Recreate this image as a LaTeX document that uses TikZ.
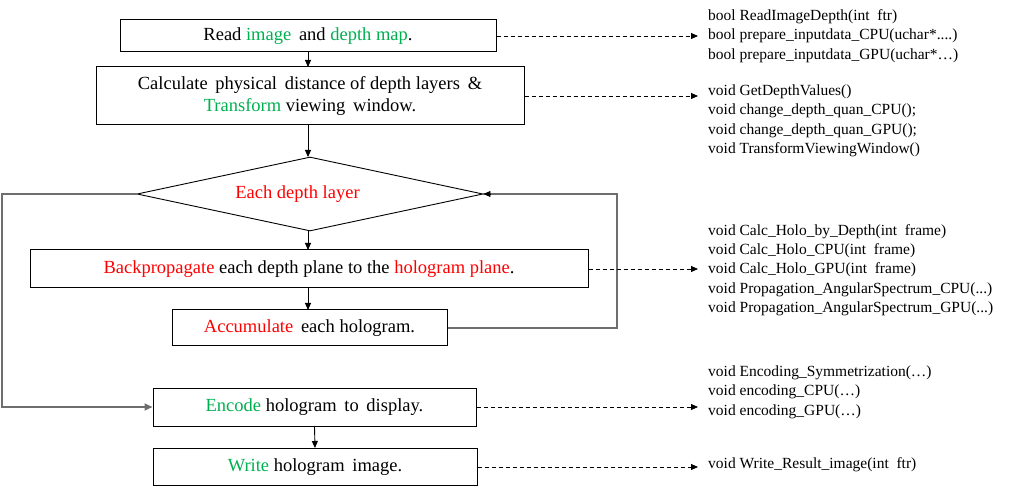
\documentclass[tikz,border=0pt]{standalone}
\usepackage{fontspec}
\setmainfont{Liberation Serif}
\usetikzlibrary{shapes.geometric,arrows.meta}
\definecolor{grn}{HTML}{00B050}
\definecolor{rd}{HTML}{FF0000}
\definecolor{loopgray}{HTML}{6E6E6E}
\begin{document}
\begin{tikzpicture}[x=1pt,y=-1pt,
  box/.style={draw=black,line width=1pt,inner sep=0pt,align=center,
    font=\fontsize{18.5}{22}\selectfont},
  dia/.style={draw=black,line width=0.9pt,shape=diamond,inner sep=0pt,aspect=4.65},
  diatext/.style={inner sep=0pt,font=\fontsize{18.5}{22}\selectfont,text=rd},
  code/.style={anchor=west,inner xsep=10pt,inner ysep=0pt,align=left,
    font=\fontsize{15.5}{19.3}\selectfont},
  flow/.style={line width=0.9pt,-{Triangle[length=7pt,width=6pt]}},
  dashflow/.style={line width=0.8pt,dash pattern=on 4pt off 3pt,-{Triangle[length=7pt,width=6pt]}},
  loopflow/.style={draw=loopgray,line width=1.6pt},
]
\useasboundingbox (0,0) rectangle (1021,489);

\node[box,minimum width=376pt,minimum height=32pt] (b1) at (308,36)
  {Read \textcolor{grn}{image} \,and \textcolor{grn}{depth map}.};
\node[box,minimum width=428pt,minimum height=58pt] (b2) at (310,96)
  {Calculate \,physical \,distance of depth layers \,\&\\ \textcolor{grn}{Transform} viewing \,window.};
\node[dia,minimum width=346pt,minimum height=74pt] (d) at (310,194) {};
\node[diatext] (dt) at (297.5,194) {Each depth layer};
\node[box,minimum width=558pt,minimum height=38pt] (b3) at (309,269)
  {\textcolor{rd}{Backpropagate} each depth plane to the \textcolor{rd}{hologram plane}.};
\node[box,minimum width=275pt,minimum height=36pt] (b4) at (309.5,328)
  {\textcolor{rd}{Accumulate} \,each hologram.};
\node[box,minimum width=323pt,minimum height=38pt] (b5) at (314.5,407)
  {\textcolor{grn}{Encode} hologram \,to \,display.};
\node[box,minimum width=324pt,minimum height=37pt] (b6) at (315,467)
  {\textcolor{grn}{Write} hologram \,image.};

\node[code] (c1) at (698,36) {bool ReadImageDepth(int \ ftr)\\bool prepare\_inputdata\_CPU(uchar*{.}{.}{.}{.})\\bool prepare\_inputdata\_GPU(uchar*…)};
\node[code,anchor=north west] (c2) at (698,84.5) {void GetDepthValues()\\void change\_depth\_quan\_CPU();\\void change\_depth\_quan\_GPU();\\void TransformViewingWindow()};
\node[code] (c3) at (698,270) {void Calc\_Holo\_by\_Depth(int \ frame)\\void Calc\_Holo\_CPU(int \ frame)\\void Calc\_Holo\_GPU(int \ frame)\\void Propagation\_AngularSpectrum\_CPU(...)\\void Propagation\_AngularSpectrum\_GPU(...)};
\node[code,anchor=north west] (c4) at (698,365.5) {void Encoding\_Symmetrization(…)\\void encoding\_CPU(…)\\void encoding\_GPU(…)};
\node[code] (c5) at (698,465) {void Write\_Result\_image(int \ ftr)};

\coordinate (loopR) at (617,0);
\coordinate (loopL) at (2,0);

\draw[flow] (308,52) -- (308,67);
\draw[flow] (308,125) -- (308,157);
\draw[flow] (308,231) -- (308,250);
\draw[flow] (308,288) -- (308,310);
\draw[flow] (b5.south) -- (b6.north);

\draw[loopflow] (b4.east) -- (b4.east -| loopR) |- (d.east);
\draw[flow,draw=black] ([xshift=8pt]d.east) -- (d.east);
\draw[loopflow] (d.west) -- (d.west -| loopL) |- ([xshift=-8pt]b5.west);
\draw[flow,draw=loopgray,line width=1.6pt,-{Triangle[length=8pt,width=7pt]}] ([xshift=-9pt]b5.west) -- (b5.west);

\draw[dashflow] (b1.east) -- (b1.east -| c1.west);
\draw[dashflow] (b2.east) -- (b2.east -| c1.west);
\draw[dashflow] (b3.east) -- (b3.east -| c3.west);
\draw[dashflow] (b5.east) -- (b5.east -| c4.west);
\draw[dashflow] (b6.east) -- (b6.east -| c5.west);
\end{tikzpicture}
\end{document}
